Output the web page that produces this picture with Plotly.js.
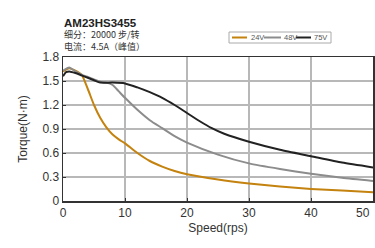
<!DOCTYPE html>
<html><head><meta charset="utf-8">
<script src="https://cdn.plot.ly/plotly-3.0.1.min.js"></script>
<style>html,body{margin:0;padding:0;background:#fff}#c{width:375px;height:248px}</style>
</head><body><div id="c"></div>
<script>
var seriesNames = ["24V", "48V", "75V"];
var speed24 = [0, 1, 2, 3, 4, 5, 6, 7, 8, 9, 10, 12, 14, 16, 18, 20, 25, 30, 35, 40, 45, 50];
var torque24 = [1.62, 1.66, 1.63, 1.58, 1.40, 1.20, 1.04, 0.92, 0.83, 0.77, 0.72, 0.60, 0.50, 0.43, 0.375, 0.335, 0.27, 0.22, 0.18, 0.15, 0.13, 0.11];
var speed48 = [0, 1, 2, 3, 4, 5, 6, 7, 8, 9, 10, 12, 14, 16, 18, 20, 25, 30, 35, 40, 45, 50];
var torque48 = [1.63, 1.67, 1.62, 1.58, 1.55, 1.52, 1.49, 1.48, 1.45, 1.37, 1.29, 1.14, 1.01, 0.91, 0.81, 0.73, 0.58, 0.47, 0.40, 0.34, 0.29, 0.25];
var speed75 = [0, 0.5, 1, 2, 3, 4, 5, 6, 8, 10, 12, 14, 16, 18, 20, 22, 24, 26, 30, 35, 40, 45, 50];
var torque75 = [1.56, 1.61, 1.62, 1.60, 1.57, 1.54, 1.51, 1.48, 1.48, 1.47, 1.42, 1.36, 1.29, 1.20, 1.10, 1.00, 0.91, 0.84, 0.74, 0.64, 0.56, 0.48, 0.42];
var colors = ["#c4820e", "#8c8c8c", "#222222"];
var xTicks = [0, 10, 20, 30, 40, 50];
var xTickText = ["0", "10", "20", "30", "40", "50"];
var yTicks = [0, 0.3, 0.6, 0.9, 1.2, 1.5, 1.8];
var yTickText = ["0", "0.3", "0.6", "0.9", "1.2", "1.5", "1.8"];
var titleLines = ["<b>AM23HS3455</b>", "细分：20000 步/转", "电流：4.5A（峰值）"];

var M = {l: 63, r: 2, t: 57, b: 47}, W = 375, H = 248;
var pw = W - M.l - M.r, ph = H - M.t - M.b;
function px(x){ return (x - M.l) / pw; }
function py(y){ return (H - M.b - y) / ph; }

var xs = [speed24, speed48, speed75], ys = [torque24, torque48, torque75];
var traces = seriesNames.map(function(n, i){
  return {x: xs[i], y: ys[i], name: n, type: "scatter", mode: "lines",
    line: {color: colors[i], width: 2, shape: "spline", smoothing: 0.6}};
});

// manual compact legend
var shapes = [{type: "rect", xref: "paper", yref: "paper", x0: px(229), x1: px(331), y0: py(43), y1: py(32),
  line: {color: "#aaa", width: 1}, fillcolor: "#fff"}];
var legLineX = [[232, 247], [264, 281], [296, 311]];
var legTextX = [249, 282, 312];
var annotations = [];
seriesNames.forEach(function(n, i){
  shapes.push({type: "line", xref: "paper", yref: "paper", x0: px(legLineX[i][0]), x1: px(legLineX[i][1]),
    y0: py(37.5), y1: py(37.5), line: {color: colors[i], width: 2}});
  annotations.push({xref: "paper", yref: "paper", x: px(legTextX[i]), y: py(37.5), xanchor: "left", yanchor: "middle",
    text: n, showarrow: false, font: {size: 7.5, color: "#555"}});
});
var titleY = [22.5, 34.5, 46.5], titleSize = [11.5, 9, 9];
titleLines.forEach(function(t, i){
  annotations.push({xref: "paper", yref: "paper", x: px(62), y: py(titleY[i]), xanchor: "left", yanchor: "middle",
    text: t, showarrow: false,
    font: {size: titleSize[i], color: i === 0 ? "#222" : "#333", family: i === 0 ? "Liberation Sans, Arial, sans-serif" : "Noto Sans CJK SC, sans-serif"}});
});
// last x tick label drawn inside the page edge, as in the reference
var lastIdx = xTicks.length - 1;
annotations.push({xref: "x", yref: "paper", x: xTicks[lastIdx], y: py(213), xanchor: "right", yanchor: "middle",
  xshift: -1, text: xTickText[lastIdx], showarrow: false, font: {size: 12, color: "#333"}});
var shownXText = xTickText.map(function(t, i){ return i === lastIdx ? "" : t; });

var font = "Liberation Sans, Arial, sans-serif";
var layout = {
  width: W, height: H, margin: M,
  paper_bgcolor: "#fff", plot_bgcolor: "#fff",
  font: {family: font, color: "#333", size: 12},
  showlegend: false,
  xaxis: {range: [0, 50], tickvals: xTicks, ticktext: shownXText,
    showgrid: true, gridcolor: "#b8b8b8", gridwidth: 1.2,
    showline: true, linecolor: "#333", linewidth: 1.5, mirror: true,
    ticks: "inside", ticklen: 3, tickcolor: "#333", zeroline: false,
    tickfont: {size: 12, color: "#333"},
    title: {text: "Speed(rps)", font: {size: 12, color: "#333"}, standoff: 4}},
  yaxis: {range: [0, 1.8], tickvals: yTicks, ticktext: yTickText,
    showgrid: true, gridcolor: "#b8b8b8", gridwidth: 1.2,
    showline: true, linecolor: "#333", linewidth: 1.5, mirror: true,
    ticks: "inside", ticklen: 3, tickcolor: "#333", zeroline: false,
    tickfont: {size: 12, color: "#333"},
    title: {text: "Torque(N·m)", font: {size: 12, color: "#333"}, standoff: 12}},
  shapes: shapes,
  annotations: annotations
};
Plotly.newPlot("c", traces, layout, {displayModeBar: false, staticPlot: true});
</script></body></html>
